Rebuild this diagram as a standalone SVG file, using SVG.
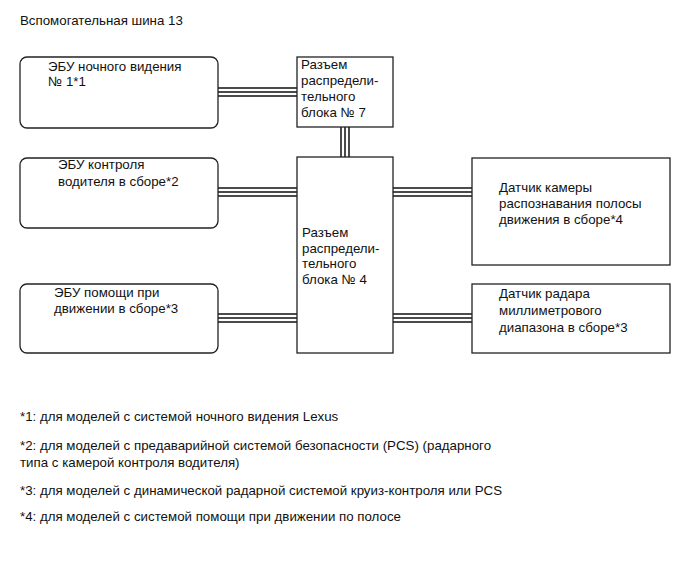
<svg xmlns="http://www.w3.org/2000/svg" width="690" height="562" viewBox="0 0 690 562">
<style>
text{font-family:"Liberation Sans",Arial,sans-serif;font-size:13.3px;fill:#111}
.box{fill:#fff;stroke:#222;stroke-width:1.3}
.w{stroke:#111;stroke-width:1.5;fill:none}
</style>
<rect width="690" height="562" fill="#fff"/>
<text x="20" y="25">Вспомогательная шина 13</text>
<g id="connectors">
<path class="w" d="M218 88H297M218 92H297M218 96H297"/>
<path class="w" d="M341 127V157M345 127V157M349 127V157"/>
<path class="w" d="M218 188H297M218 192H297M218 196H297"/>
<path class="w" d="M393 188H472M393 192H472M393 196H472"/>
<path class="w" d="M218 314H297M218 318H297M218 322H297"/>
<path class="w" d="M393 314H472M393 318H472M393 322H472"/>
</g>
<g id="ecu-night">
<rect class="box" x="20" y="57" width="198" height="71" rx="7"/>
<text x="48" y="71">ЭБУ ночного видения</text>
<text x="48" y="86">№ 1*1</text>
</g>
<g id="jb7">
<rect class="box" x="297" y="57" width="96" height="70"/>
<text x="301" y="69">Разъем</text>
<text x="301" y="85">распредели-</text>
<text x="301" y="101">тельного</text>
<text x="301" y="117">блока № 7</text>
</g>
<g id="ecu-driver">
<rect class="box" x="20" y="158" width="198" height="70" rx="7"/>
<text x="58" y="169">ЭБУ контроля</text>
<text x="58" y="186">водителя в сборе*2</text>
</g>
<g id="jb4">
<rect class="box" x="297" y="157" width="96" height="196"/>
<text x="302" y="237">Разъем</text>
<text x="302" y="253">распредели-</text>
<text x="302" y="268">тельного</text>
<text x="302" y="284">блока № 4</text>
</g>
<g id="camera">
<rect class="box" x="472" y="158" width="198" height="107"/>
<text x="499" y="192">Датчик камеры</text>
<text x="499" y="208">распознавания полосы</text>
<text x="499" y="224">движения в сборе*4</text>
</g>
<g id="ecu-assist">
<rect class="box" x="20" y="284" width="198" height="69" rx="7"/>
<text x="54" y="297">ЭБУ помощи при</text>
<text x="54" y="313">движении в сборе*3</text>
</g>
<g id="radar">
<rect class="box" x="472" y="284" width="198" height="69"/>
<text x="499" y="298">Датчик радара</text>
<text x="499" y="315">миллиметрового</text>
<text x="499" y="332">диапазона в сборе*3</text>
</g>
<text x="20" y="421">*1: для моделей с системой ночного видения Lexus</text>
<text x="20" y="450">*2: для моделей с предаварийной системой безопасности (PCS) (радарного</text>
<text x="20" y="467">типа с камерой контроля водителя)</text>
<text x="20" y="495">*3: для моделей с динамической радарной системой круиз-контроля или PCS</text>
<text x="20" y="521">*4: для моделей с системой помощи при движении по полосе</text>
</svg>
